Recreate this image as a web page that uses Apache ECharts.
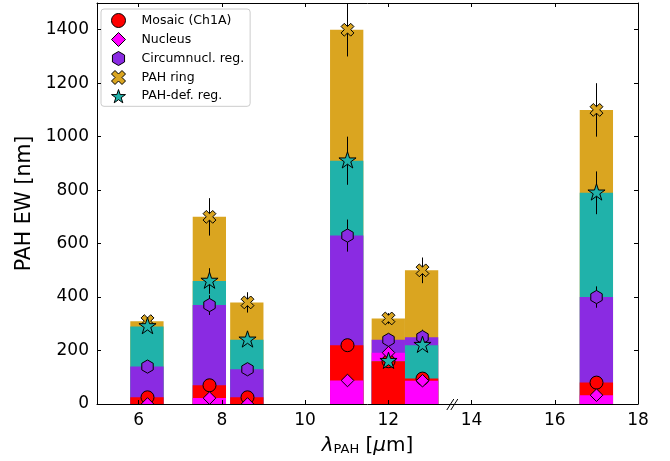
<!DOCTYPE html>
<html>
<head>
<meta charset="utf-8">
<script src="https://cdn.jsdelivr.net/npm/echarts@6/dist/echarts.min.js"></script>
<style>
html,body{margin:0;padding:0;background:#fff;}
#chart{width:670px;height:461px;}
</style>
</head>
<body>
<div id="chart"></div>
<script>
// ---- data ----
const features = [6.2, 7.7, 8.6, 11.0, 12.0, 12.8, 17.0];
const mosaic     = [25, 70, 25, 220, 160, 95, 80];
const mosaicErr  = [3, 5, 3, 10, 5, 5, 5];
const nucleus    = [0, 22, 0, 88, 192, 87, 33];
const nucleusErr = [0, 3, 0, 5, 5, 3, 3];
const circum     = [140, 370, 130, 630, 240, 250, 400];
const circumErr  = [8, 37, 10, 60, 10, 28, 40];
const ring       = [310, 700, 380, 1400, 320, 500, 1100];
const ringErr    = [15, 70, 38, 100, 20, 48, 100];
const pahdef     = [290, 460, 240, 910, 160, 220, 790];
const pahdefErr  = [8, 48, 8, 90, 8, 12, 80];
const seriesNames = ['Mosaic (Ch1A)', 'Nucleus', 'Circumnucl. reg.', 'PAH ring', 'PAH-def. reg.'];
const xTickLabels = [6, 8, 10, 12, 14, 16, 18];
const yTickLabels = [0, 200, 400, 600, 800, 1000, 1200, 1400];
const axisBreakAt = 13.55;

// ---- styles ----
const COLORS = ['#ff0000', '#ff00ff', '#8a2be2', '#daa520', '#20b2aa'];
const BAR_HALF = 0.4;
const FONT = 'DejaVu Sans';

const SHAPES = {
  diamond: [[0,-1],[1,0],[0,1],[-1,0]],
  hexagon: [[0,-1],[0.866,-0.5],[0.866,0.5],[0,1],[-0.866,0.5],[-0.866,-0.5]],
  xcross: [[0.4714,-0.9428],[0.9428,-0.4714],[0.4714,0],[0.9428,0.4714],[0.4714,0.9428],[0,0.4714],
           [-0.4714,0.9428],[-0.9428,0.4714],[-0.4714,0],[-0.9428,-0.4714],[-0.4714,-0.9428],[0,-0.4714]],
  star: [[0,-1],[0.2245,-0.309],[0.9511,-0.309],[0.3633,0.118],[0.5878,0.809],[0,0.382],
         [-0.5878,0.809],[-0.3633,0.118],[-0.9511,-0.309],[-0.2245,-0.309]]
};
function toPath(pts){
  return 'path://' + pts.map((p,i)=>(i?'L':'M')+p[0]+','+p[1]).join('') + 'Z';
}

// bars: every species drawn from 0, larger behind smaller
const specVals = [mosaic, nucleus, circum, ring, pahdef];
const barOrder = [3, 4, 2, 1, 0];
const barItems = [];
features.forEach((x, i) => {
  barOrder.forEach(s => barItems.push([x, specVals[s][i], s]));
});
barItems.sort((a, b) => b[1] - a[1]);

function markerSeries(idx, vals, errs, shape, sx, sy){
  return {
    type: 'custom', name: seriesNames[idx], coordinateSystem: 'cartesian2d',
    clip: true, z: 5 + idx,
    itemStyle: {color: COLORS[idx], borderColor: '#000', borderWidth: 1},
    data: features.map((x, i) => [x, vals[i], errs[i]]),
    renderItem: function(params, api){
      const x = api.value(0), v = api.value(1), e = api.value(2);
      const c = api.coord([x, v]);
      const t = api.coord([x, v + e]);
      const b = api.coord([x, v - e]);
      const cx = Math.round(c[0]) + 0.5;
      const children = [];
      if (e > 0) {
        children.push({type: 'line', shape: {x1: cx, y1: t[1], x2: cx, y2: b[1]},
          style: {stroke: '#000', lineWidth: 1}});
      }
      const st = {fill: COLORS[idx], stroke: '#000', lineWidth: 1};
      if (shape === 'circle') {
        children.push({type: 'circle', shape: {cx: cx, cy: c[1], r: sx}, style: st});
      } else {
        children.push({type: 'polygon',
          shape: {points: SHAPES[shape].map(p => [cx + p[0]*sx, c[1] + p[1]*sy])}, style: st});
      }
      return {type: 'group', children: children};
    }
  };
}

const chart = echarts.init(document.getElementById('chart'), null, {renderer: 'canvas'});
const tickStyle = {show: true, inside: true, length: 4, lineStyle: {color: '#000', width: 1}};
const plain = v => String(v);
const option = {
  animation: false,
  backgroundColor: '#fff',
  grid: {left: 97, right: 32, top: 3, bottom: 54, containLabel: false},
  xAxis: [{
    type: 'value', min: 5, max: 18, position: 'bottom', z: 10,
    axisLine: {show: true, onZero: false, lineStyle: {color: '#000', width: 1}},
    axisTick: Object.assign({customValues: xTickLabels}, tickStyle),
    axisLabel: {customValues: xTickLabels, formatter: plain, fontSize: 17, fontFamily: FONT, color: '#000', margin: 8},
    splitLine: {show: false},
    name: '{l|λ}{s|PAH}{n| [}{m|μ}{n|m]}',
    nameLocation: 'middle', nameGap: 26,
    nameTextStyle: {
      fontFamily: FONT, fontSize: 20, color: '#000',
      rich: {
        l: {fontFamily: FONT, fontSize: 20, fontStyle: 'italic', color: '#000', lineHeight: 26, verticalAlign: 'bottom'},
        s: {fontFamily: FONT, fontSize: 13, color: '#000', lineHeight: 14, verticalAlign: 'bottom'},
        n: {fontFamily: FONT, fontSize: 20, color: '#000', lineHeight: 26, verticalAlign: 'bottom'},
        m: {fontFamily: FONT, fontSize: 20, fontStyle: 'italic', color: '#000', lineHeight: 26, verticalAlign: 'bottom'}
      }
    }
  }, {
    type: 'value', min: 5, max: 18, position: 'top', z: 10,
    axisLine: {show: true, onZero: false, lineStyle: {color: '#000', width: 1}},
    axisTick: Object.assign({customValues: xTickLabels}, tickStyle),
    axisLabel: {show: false}, splitLine: {show: false}
  }],
  yAxis: [{
    type: 'value', min: 0, max: 1500, position: 'left', z: 10,
    axisLine: {show: true, onZero: false, lineStyle: {color: '#000', width: 1}},
    axisTick: Object.assign({customValues: yTickLabels}, tickStyle),
    axisLabel: {customValues: yTickLabels, formatter: plain, fontSize: 17, fontFamily: FONT, color: '#000', margin: 8},
    splitLine: {show: false},
    name: 'PAH EW [nm]', nameLocation: 'middle', nameGap: 52, nameRotate: 90,
    nameTextStyle: {fontFamily: FONT, fontSize: 20.5, color: '#000'}
  }, {
    type: 'value', min: 0, max: 1500, position: 'right', z: 10,
    axisLine: {show: true, onZero: false, lineStyle: {color: '#000', width: 1}},
    axisTick: Object.assign({customValues: yTickLabels}, tickStyle),
    axisLabel: {show: false}, splitLine: {show: false}
  }],
  legend: {
    orient: 'vertical', left: 101, top: 9,
    padding: [4, 6, 3, 10], itemGap: 4, itemWidth: 14, itemHeight: 14,
    backgroundColor: 'rgba(255,255,255,0.85)', borderColor: '#cccccc', borderWidth: 1, borderRadius: 3,
    textStyle: {fontFamily: FONT, fontSize: 12.5, color: '#000', padding: [0, 0, 0, 11]},
    symbolKeepAspect: true,
    data: [
      {name: seriesNames[0], icon: 'circle', itemStyle: {color: COLORS[0], borderColor: '#000', borderWidth: 1}},
      {name: seriesNames[1], icon: toPath(SHAPES.diamond), itemStyle: {color: COLORS[1], borderColor: '#000', borderWidth: 1}},
      {name: seriesNames[2], icon: toPath(SHAPES.hexagon), itemStyle: {color: COLORS[2], borderColor: '#000', borderWidth: 1}},
      {name: seriesNames[3], icon: toPath(SHAPES.xcross), itemStyle: {color: COLORS[3], borderColor: '#000', borderWidth: 1}},
      {name: seriesNames[4], icon: toPath(SHAPES.star), itemStyle: {color: COLORS[4], borderColor: '#000', borderWidth: 1}}
    ]
  },
  series: [
    {
      type: 'custom', name: 'bars', coordinateSystem: 'cartesian2d', clip: true, z: 2,
      data: barItems,
      renderItem: function(params, api){
        const x = api.value(0), v = api.value(1), s = api.value(2);
        const p0 = api.coord([x - BAR_HALF, v]);
        const p1 = api.coord([x + BAR_HALF, 0]);
        return {type: 'rect', shape: {x: p0[0], y: p0[1], width: p1[0]-p0[0], height: p1[1]-p0[1]},
          style: {fill: COLORS[s]}};
      }
    },
    markerSeries(0, mosaic, mosaicErr, 'circle', 6.5, 6.5),
    markerSeries(1, nucleus, nucleusErr, 'diamond', 6.3, 6.3),
    markerSeries(2, circum, circumErr, 'hexagon', 6.6, 6.6),
    markerSeries(3, ring, ringErr, 'xcross', 6.8, 6.8),
    markerSeries(4, pahdef, pahdefErr, 'star', 9, 9),
    {
      type: 'custom', name: 'break', coordinateSystem: 'cartesian2d', clip: false, z: 20,
      data: [[axisBreakAt, 0]],
      renderItem: function(params, api){
        const c = api.coord([api.value(0), api.value(1)]);
        const st = {stroke: '#000', lineWidth: 1};
        return {type: 'group', children: [
          {type: 'line', shape: {x1: c[0]-6, y1: c[1]+6, x2: c[0]+1, y2: c[1]-5}, style: st},
          {type: 'line', shape: {x1: c[0]-2, y1: c[1]+6, x2: c[0]+5, y2: c[1]-5}, style: st}
        ]};
      }
    }
  ]
};
chart.setOption(option);
</script>
</body>
</html>
